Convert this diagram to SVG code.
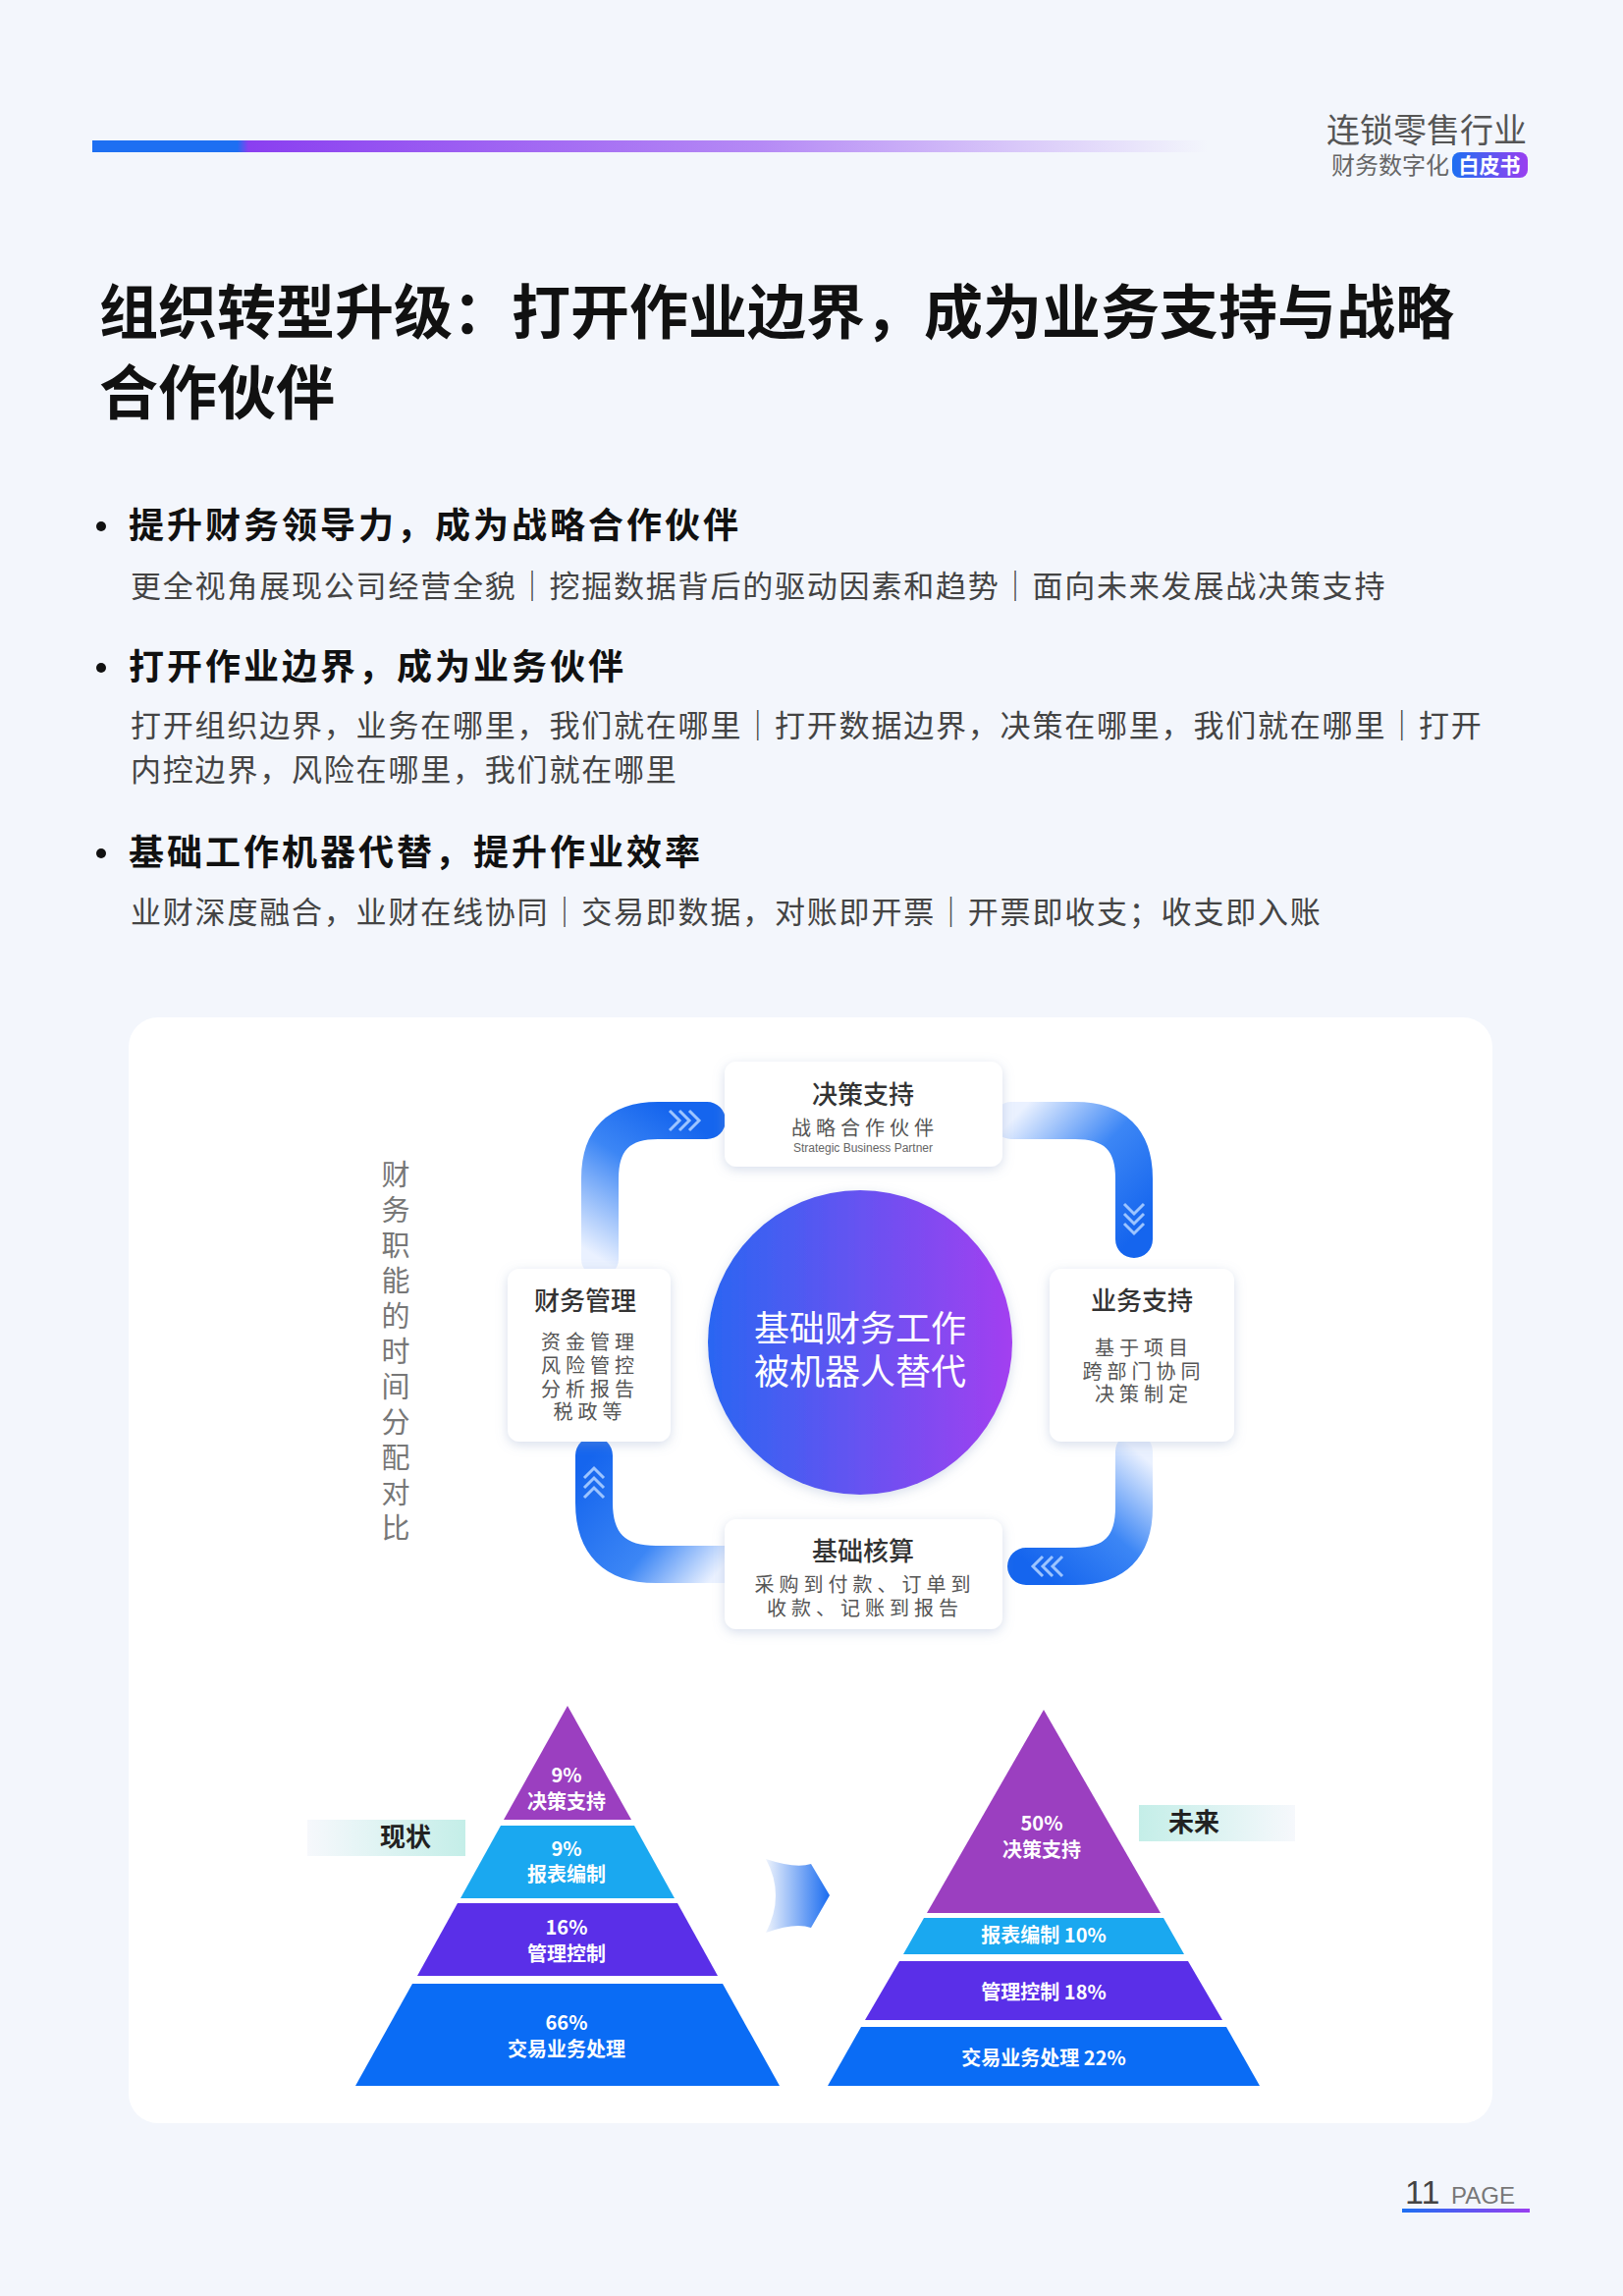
<svg xmlns="http://www.w3.org/2000/svg" width="1653" height="2338" viewBox="0 0 1653 2338">
<defs>
<style>
.cn{font-family:"Noto Sans CJK SC","Noto Sans",sans-serif}
.h1{font-size:60px;font-weight:700;fill:#111}
.h2{font-size:36px;font-weight:700;fill:#111;letter-spacing:3px}
.p{font-size:31px;fill:#444;letter-spacing:1.8px}
.bt{font-size:26px;font-weight:500;fill:#333;text-anchor:middle}
.bs{font-size:20px;fill:#555;text-anchor:middle;letter-spacing:5px}
.pw{font-size:20px;font-weight:700;fill:#fff;text-anchor:middle}
.box{fill:#fff;filter:url(#sh)}
.arc{fill:none;stroke-width:38;stroke-linecap:round}
.chev{fill:none;stroke:#9cc4ff;stroke-width:3}
</style>
<filter id="sh" x="-20%" y="-20%" width="140%" height="140%"><feDropShadow dx="0" dy="3" stdDeviation="6" flood-color="#8aa0c8" flood-opacity="0.35"/></filter>
<linearGradient id="bar" x1="0" x2="1"><stop offset="0" stop-color="#1d6ff2"/><stop offset="0.13" stop-color="#1d6ff2"/><stop offset="0.14" stop-color="#8a3ff0"/><stop offset="0.6" stop-color="#b58af5"/><stop offset="1" stop-color="#f3f6fc"/></linearGradient>
<linearGradient id="circ" x1="0" x2="1"><stop offset="0" stop-color="#2a66f2"/><stop offset="1" stop-color="#a33ff0"/></linearGradient>
<linearGradient id="gTL" gradientUnits="userSpaceOnUse" x1="611" y1="1282" x2="700" y2="1141"><stop offset="0" stop-color="#eaf1ff"/><stop offset="0.6" stop-color="#3c86f5"/><stop offset="1" stop-color="#1565ee"/></linearGradient>
<linearGradient id="gTR" gradientUnits="userSpaceOnUse" x1="1030" y1="1141" x2="1155" y2="1260"><stop offset="0" stop-color="#eaf1ff"/><stop offset="0.5" stop-color="#3c86f5"/><stop offset="1" stop-color="#1565ee"/></linearGradient>
<linearGradient id="gBR" gradientUnits="userSpaceOnUse" x1="1155" y1="1475" x2="1050" y2="1595"><stop offset="0" stop-color="#eaf1ff"/><stop offset="0.5" stop-color="#3c86f5"/><stop offset="1" stop-color="#1565ee"/></linearGradient>
<linearGradient id="gBL" gradientUnits="userSpaceOnUse" x1="738" y1="1593" x2="605" y2="1480"><stop offset="0" stop-color="#eaf1ff"/><stop offset="0.4" stop-color="#3c86f5"/><stop offset="1" stop-color="#1565ee"/></linearGradient>
<linearGradient id="lab1" x1="0" x2="1"><stop offset="0" stop-color="#f6f8fc"/><stop offset="1" stop-color="#c4eee8"/></linearGradient>
<linearGradient id="lab2" x1="0" x2="1"><stop offset="0" stop-color="#c4eee8"/><stop offset="1" stop-color="#f6f8fc"/></linearGradient>
<linearGradient id="arr" x1="0" x2="1"><stop offset="0" stop-color="#eef3fc"/><stop offset="1" stop-color="#1a6cf0"/></linearGradient>
<linearGradient id="pg" x1="0" x2="1"><stop offset="0" stop-color="#1d6ff2"/><stop offset="1" stop-color="#9a3ff0"/></linearGradient>
</defs>
<rect width="1653" height="2338" fill="#f3f6fc"/>
<g id="header">
<rect x="94" y="143" width="1136" height="12" fill="url(#bar)"/>
<text class="cn" x="1555" y="145" text-anchor="end" font-size="34" fill="#555">连锁零售行业</text>
<text class="cn" x="1476" y="177" text-anchor="end" font-size="24" fill="#666">财务数字化</text>
<rect x="1479" y="155" width="77" height="26" rx="8" fill="url(#pg)"/>
<text class="cn" x="1517" y="176" text-anchor="middle" font-size="21" font-weight="700" fill="#fff">白皮书</text>
</g>
<g id="title" class="cn">
<text class="h1" x="101" y="340">组织转型升级：打开作业边界，成为业务支持与战略</text>
<text class="h1" x="101" y="422">合作伙伴</text>
</g>
<g id="bullets" class="cn">
<circle cx="103" cy="536" r="5" fill="#111"/>
<text class="h2" x="131" y="548">提升财务领导力，成为战略合作伙伴</text>
<text class="p" x="133" y="608">更全视角展现公司经营全貌｜挖掘数据背后的驱动因素和趋势｜面向未来发展战决策支持</text>
<circle cx="103" cy="680" r="5" fill="#111"/>
<text class="h2" x="131" y="692">打开作业边界，成为业务伙伴</text>
<text class="p" x="133" y="750">打开组织边界，业务在哪里，我们就在哪里｜打开数据边界，决策在哪里，我们就在哪里｜打开</text>
<text class="p" x="133" y="795">内控边界，风险在哪里，我们就在哪里</text>
<circle cx="103" cy="869" r="5" fill="#111"/>
<text class="h2" x="131" y="881">基础工作机器代替，提升作业效率</text>
<text class="p" x="133" y="940">业财深度融合，业财在线协同｜交易即数据，对账即开票｜开票即收支；收支即入账</text>
</g>
<rect id="card" x="131" y="1036" width="1389" height="1126" rx="30" fill="#fff"/>
<g id="connectors">
<path class="arc" stroke="url(#gTL)" d="M611 1282 L611 1200 Q611 1141 670 1141 L720 1141"/>
<path class="arc" stroke="url(#gTR)" d="M1030 1141 L1095 1141 Q1155 1141 1155 1200 L1155 1262"/>
<path class="arc" stroke="url(#gBR)" d="M1155 1478 L1155 1535 Q1155 1595 1095 1595 L1045 1595"/>
<path class="arc" stroke="url(#gBL)" d="M738 1593 L668 1593 Q605 1593 605 1530 L605 1482"/>
<path class="chev" d="M682 1131 l10 10 l-10 10 M692 1131 l10 10 l-10 10 M702 1131 l10 10 l-10 10"/>
<path class="chev" d="M1145 1226 l10 10 l10 -10 M1145 1236 l10 10 l10 -10 M1145 1246 l10 10 l10 -10"/>
<path class="chev" d="M1082 1585 l-10 10 l10 10 M1072 1585 l-10 10 l10 10 M1062 1585 l-10 10 l10 10"/>
<path class="chev" d="M595 1525 l10 -10 l10 10 M595 1515 l10 -10 l10 10 M595 1505 l10 -10 l10 10"/>
</g>
<g id="vlabel" class="cn" font-size="29" fill="#777" text-anchor="middle">
<text x="403" y="1207">财</text><text x="403" y="1243">务</text><text x="403" y="1279">职</text><text x="403" y="1315">能</text><text x="403" y="1351">的</text><text x="403" y="1387">时</text><text x="403" y="1423">间</text><text x="403" y="1459">分</text><text x="403" y="1495">配</text><text x="403" y="1531">对</text><text x="403" y="1567">比</text>
</g>
<g id="center" class="cn">
<circle cx="876" cy="1367" r="155" fill="url(#circ)" filter="url(#sh)"/>
<text x="876" y="1366" text-anchor="middle" font-size="36" fill="#fff">基础财务工作</text>
<text x="876" y="1410" text-anchor="middle" font-size="36" fill="#fff">被机器人替代</text>
</g>
<g id="n-decision" class="cn">
<rect class="box" x="738" y="1081" width="283" height="107" rx="12"/>
<text class="bt" x="879" y="1124">决策支持</text>
<text class="bs" x="881" y="1156">战略合作伙伴</text>
<text x="879" y="1173" text-anchor="middle" font-size="12" fill="#666" font-family="Liberation Sans,sans-serif">Strategic Business Partner</text>
</g>
<g id="n-finance" class="cn">
<rect class="box" x="517" y="1292" width="166" height="176" rx="12"/>
<text class="bt" x="596" y="1334">财务管理</text>
<text class="bs" x="601" y="1374">资金管理</text>
<text class="bs" x="601" y="1398">风险管控</text>
<text class="bs" x="601" y="1422">分析报告</text>
<text class="bs" x="601" y="1445">税政等</text>
</g>
<g id="n-business" class="cn">
<rect class="box" x="1069" y="1292" width="188" height="176" rx="12"/>
<text class="bt" x="1163" y="1334">业务支持</text>
<text class="bs" x="1165" y="1380">基于项目</text>
<text class="bs" x="1165" y="1404">跨部门协同</text>
<text class="bs" x="1165" y="1427">决策制定</text>
</g>
<g id="n-basic" class="cn">
<rect class="box" x="738" y="1547" width="283" height="112" rx="12"/>
<text class="bt" x="879" y="1589">基础核算</text>
<text class="bs" x="881" y="1621">采购到付款、订单到</text>
<text class="bs" x="881" y="1645">收款、记账到报告</text>
</g>
<g id="pyr-now" class="cn">
<polygon points="578,1737 643,1853 513,1853" fill="#9b3fc0"/>
<polygon points="510,1859 646,1859 687,1933 469,1933" fill="#1aa8f0"/>
<polygon points="466,1938 690,1938 731,2012 425,2012" fill="#5a2fe8"/>
<polygon points="420,2020 736,2020 794,2124 362,2124" fill="#0a6cf5"/>
<text class="pw" x="577" y="1815">9%</text><text class="pw" x="577" y="1842">决策支持</text>
<text class="pw" x="577" y="1890">9%</text><text class="pw" x="577" y="1916">报表编制</text>
<text class="pw" x="577" y="1970">16%</text><text class="pw" x="577" y="1997">管理控制</text>
<text class="pw" x="577" y="2067">66%</text><text class="pw" x="577" y="2094">交易业务处理</text>
</g>
<g id="label-now" class="cn">
<rect x="313" y="1853" width="161" height="37" fill="url(#lab1)"/>
<text x="413" y="1880" text-anchor="middle" font-size="26" font-weight="700" fill="#222">现状</text>
</g>
<path id="mid-arrow" d="M780 1893 Q810 1903 826 1898 L845 1930 L826 1963 Q810 1957 780 1968 Q800 1930 780 1893 Z" fill="url(#arr)"/>
<g id="pyr-future" class="cn">
<polygon points="1063,1741 1182,1948 944,1948" fill="#9b3fc0"/>
<polygon points="941,1953 1185,1953 1206,1990 920,1990" fill="#1aa8f0"/>
<polygon points="916,1997 1210,1997 1245,2057 881,2057" fill="#5a2fe8"/>
<polygon points="877,2064 1249,2064 1283,2124 843,2124" fill="#0a6cf5"/>
<text class="pw" x="1061" y="1864">50%</text><text class="pw" x="1061" y="1891">决策支持</text>
<text class="pw" x="1063" y="1978">报表编制 10%</text>
<text class="pw" x="1063" y="2036">管理控制 18%</text>
<text class="pw" x="1063" y="2103">交易业务处理 22%</text>
</g>
<g id="label-future" class="cn">
<rect x="1160" y="1838" width="159" height="37" fill="url(#lab2)"/>
<text x="1216" y="1865" text-anchor="middle" font-size="26" font-weight="700" fill="#222">未来</text>
</g>
<g id="page">
<text x="1431" y="2244" font-family="Liberation Sans,sans-serif" font-size="34" fill="#444">11</text>
<text x="1478" y="2244" font-family="Liberation Sans,sans-serif" font-size="24" fill="#777">PAGE</text>
<rect x="1428" y="2249" width="130" height="4" fill="url(#pg)"/>
</g>
</svg>
